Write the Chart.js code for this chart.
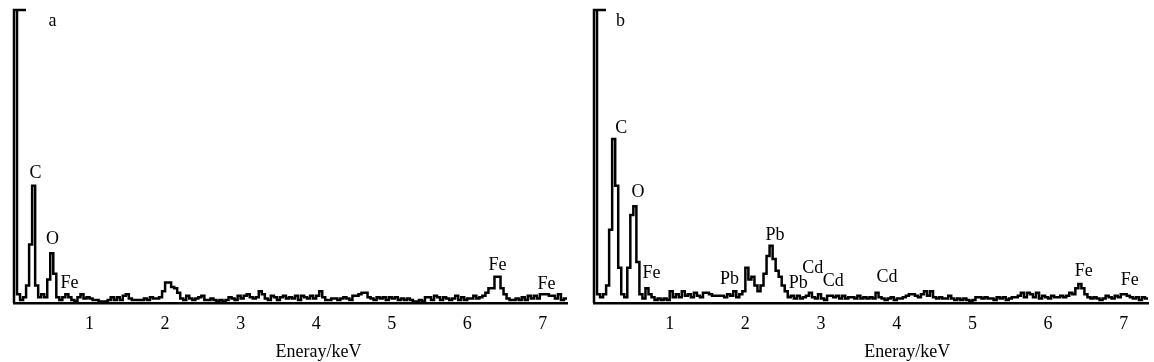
<!DOCTYPE html>
<html>
<head>
<meta charset="utf-8">
<script src="https://cdn.jsdelivr.net/npm/chart.js@4/dist/chart.umd.min.js"></script>
<style>
  body { margin: 0; background: #fff; }
  .panel { position: absolute; top: 0; }
</style>
</head>
<body>
<div class="panel" style="left:0"><canvas id="chartA" width="577" height="362"></canvas></div>
<div class="panel" style="left:577px"><canvas id="chartB" width="577" height="362"></canvas></div>
<script>
// EDS spectra, one value per 0.04 keV channel, heights in % of full scale
const CHANNEL_KEV = 0.04;

const countsA = [
  130, 3, 1, 2, 6, 20, 40, 6, 2, 3,
  2, 8, 17, 10, 2, 1, 2, 3, 2, 1,
  0.5, 2, 3, 1.5, 2, 1.5, 1, 1, 0.5, 0.5,
  0.5, 1, 2, 1, 2, 1, 2.5, 3, 1.5, 1,
  1, 1, 1, 1.5, 1, 2, 1.5, 1.5, 2, 4,
  7, 7, 5.5, 5, 3.5, 1.5, 1, 2.5, 1.5, 1,
  1.5, 2, 2.5, 1, 1, 1.5, 1, 0.5, 1, 0.5,
  1, 2, 1.5, 1, 2.5, 1.5, 2.5, 3, 2, 1.5,
  2, 4, 3, 1.5, 1, 2.5, 2, 1, 2, 2.5,
  1.5, 2, 1.5, 2.5, 1, 2.5, 2, 1.5, 2.5, 1.5,
  2.5, 4, 2, 1, 1, 1.5, 1.5, 1, 1.5, 2,
  1.5, 1, 2.5, 2.5, 3, 3.5, 3.5, 2, 1.5, 1,
  2, 1.5, 2, 1, 2, 1.5, 2, 1, 1.5, 1,
  1.5, 1, 0.5, 0.5, 1, 0.5, 2, 2, 1, 2.5,
  2, 1, 2, 1.5, 1, 1.5, 2.5, 1, 2, 1,
  1.5, 1.5, 2.5, 1.5, 2, 2.5, 3.5, 5, 5, 9,
  9, 5, 3, 1.5, 1, 1, 1.5, 1, 2, 1,
  2.5, 1.5, 2.5, 1.5, 3, 3, 3, 2.5, 2.5, 1.5,
  3, 1, 1.5
];

const countsB = [
  130, 3, 2, 3, 6, 25, 56, 40, 12, 3,
  2, 12, 30, 33, 14, 3, 1.5, 5, 3, 2,
  1, 1.5, 1, 1.5, 1, 4, 2, 3, 2, 4,
  2.5, 3, 2, 3.5, 2.5, 2, 3.5, 3.5, 3, 2.5,
  2.5, 2.5, 2.5, 2, 3, 2.5, 4, 2, 3, 4,
  12, 8, 9, 6, 4, 6, 10, 16, 19.5, 15,
  11, 9, 6, 4, 2, 2.5, 1.5, 2.5, 1.5, 2,
  2.5, 3.5, 2, 1.5, 3, 1.5, 1, 2.5, 2.5, 2,
  2.5, 1.5, 2.5, 1.5, 2, 2, 1.5, 2.5, 1.5, 2,
  1.5, 2, 1.5, 3.5, 2, 1.5, 1, 1.5, 2, 1,
  1.5, 1.5, 2, 2.5, 3, 3, 2.5, 2, 3, 4,
  2.5, 4, 2, 1.5, 2, 1.5, 1.5, 2.5, 1.5, 1,
  1.5, 1, 1.5, 1, 0.5, 1, 2, 2, 1.5, 2,
  1.5, 1.5, 1, 2, 1.5, 2, 1, 1.5, 2, 2,
  2.5, 3.5, 2, 3.5, 3, 2, 3.5, 1.5, 2.5, 2,
  1.5, 2.5, 2, 2, 2.5, 2, 2.5, 3.5, 3, 5,
  6.5, 5, 3, 2, 1.5, 2, 1.5, 1, 1.5, 2.5,
  2, 1.5, 2.5, 2, 3, 3, 2.5, 2, 1.5, 2,
  1, 2, 1.5
];

// peak labels: text, energy (keV), height (% of full scale)
const peakTextA = ['a', 'C', 'O', 'Fe', 'Fe', 'Fe'];
const peakKevA = [0.51, 0.285, 0.51, 0.735, 6.40, 7.05];
const peakHeightA = [96, 44.4, 21.8, 6.8, 13, 6.5];

const peakTextB = ['b', 'C', 'O', 'Fe', 'Pb', 'Pb', 'Pb', 'Cd', 'Cd', 'Cd', 'Fe', 'Fe'];
const peakKevB = [0.35, 0.36, 0.58, 0.76, 1.79, 2.39, 2.70, 2.89, 3.16, 3.87, 6.47, 7.08];
const peakHeightB = [96, 59.7, 37.9, 10.2, 8.2, 23.2, 6.8, 11.9, 7.5, 8.9, 10.9, 7.8];

const tickKev = [1, 2, 3, 4, 5, 6, 7];
const axisTitle = 'Eneray/keV';

const INK = '#000';
const SERIF = '"Liberation Serif", "Times New Roman", serif';

function toPoints(counts) {
  const pts = counts.map((c, i) => ({ x: i * CHANNEL_KEV, y: c }));
  pts.push({ x: counts.length * CHANNEL_KEV, y: counts[counts.length - 1] });
  return pts;
}

// y axis line with the little cap at the top, peak labels and axis title
const decorations = {
  id: 'decorations',
  afterDraw(chart, args, opts) {
    const ctx = chart.ctx;
    const area = chart.chartArea;
    const xs = chart.scales.x;
    const ys = chart.scales.y;
    ctx.save();
    ctx.strokeStyle = INK;
    ctx.lineWidth = 2.5;
    ctx.beginPath();
    ctx.moveTo(area.left, area.bottom);
    ctx.lineTo(area.left, area.top);
    ctx.lineTo(area.left + 12, area.top);
    ctx.stroke();

    ctx.fillStyle = INK;
    ctx.textAlign = 'center';
    ctx.textBaseline = 'middle';
    ctx.font = '18px ' + SERIF;
    opts.text.forEach((t, i) => {
      ctx.fillText(t, xs.getPixelForValue(opts.kev[i]), ys.getPixelForValue(opts.height[i]));
    });

    ctx.font = '18px ' + SERIF;
    ctx.fillText(axisTitle, xs.getPixelForValue(opts.titleKev), chart.height - 10);
    ctx.restore();
  }
};

function makeChart(id, counts, pad, labels) {
  return new Chart(document.getElementById(id), {
    type: 'line',
    data: {
      datasets: [{
        data: toPoints(counts),
        stepped: true,
        borderColor: INK,
        borderWidth: 2.5,
        pointRadius: 0,
        fill: false,
      }]
    },
    options: {
      responsive: false,
      animation: false,
      layout: { padding: pad },
      plugins: {
        legend: { display: false },
        tooltip: { enabled: false },
        decorations: labels,
      },
      scales: {
        x: {
          type: 'linear',
          min: 0,
          max: counts.length * CHANNEL_KEV,
          grid: { display: false, drawTicks: false },
          border: { display: true, color: INK, width: 2.5 },
          afterBuildTicks(scale) {
            scale.ticks = tickKev.map(v => ({ value: v }));
          },
          afterFit(scale) { scale.height = 59; },
          ticks: {
            autoSkip: false,
            maxRotation: 0,
            padding: 10,
            color: INK,
            font: { family: SERIF, size: 18 },
          }
        },
        y: { display: false, min: 0, max: 100 }
      }
    },
    plugins: [decorations]
  });
}

makeChart('chartA', countsA, { left: 14, right: 10, top: 10, bottom: 0 },
  { text: peakTextA, kev: peakKevA, height: peakHeightA, titleKev: 4.03 });
makeChart('chartB', countsB, { left: 17, right: 6, top: 10, bottom: 0 },
  { text: peakTextB, kev: peakKevB, height: peakHeightB, titleKev: 4.14 });
</script>
</body>
</html>
